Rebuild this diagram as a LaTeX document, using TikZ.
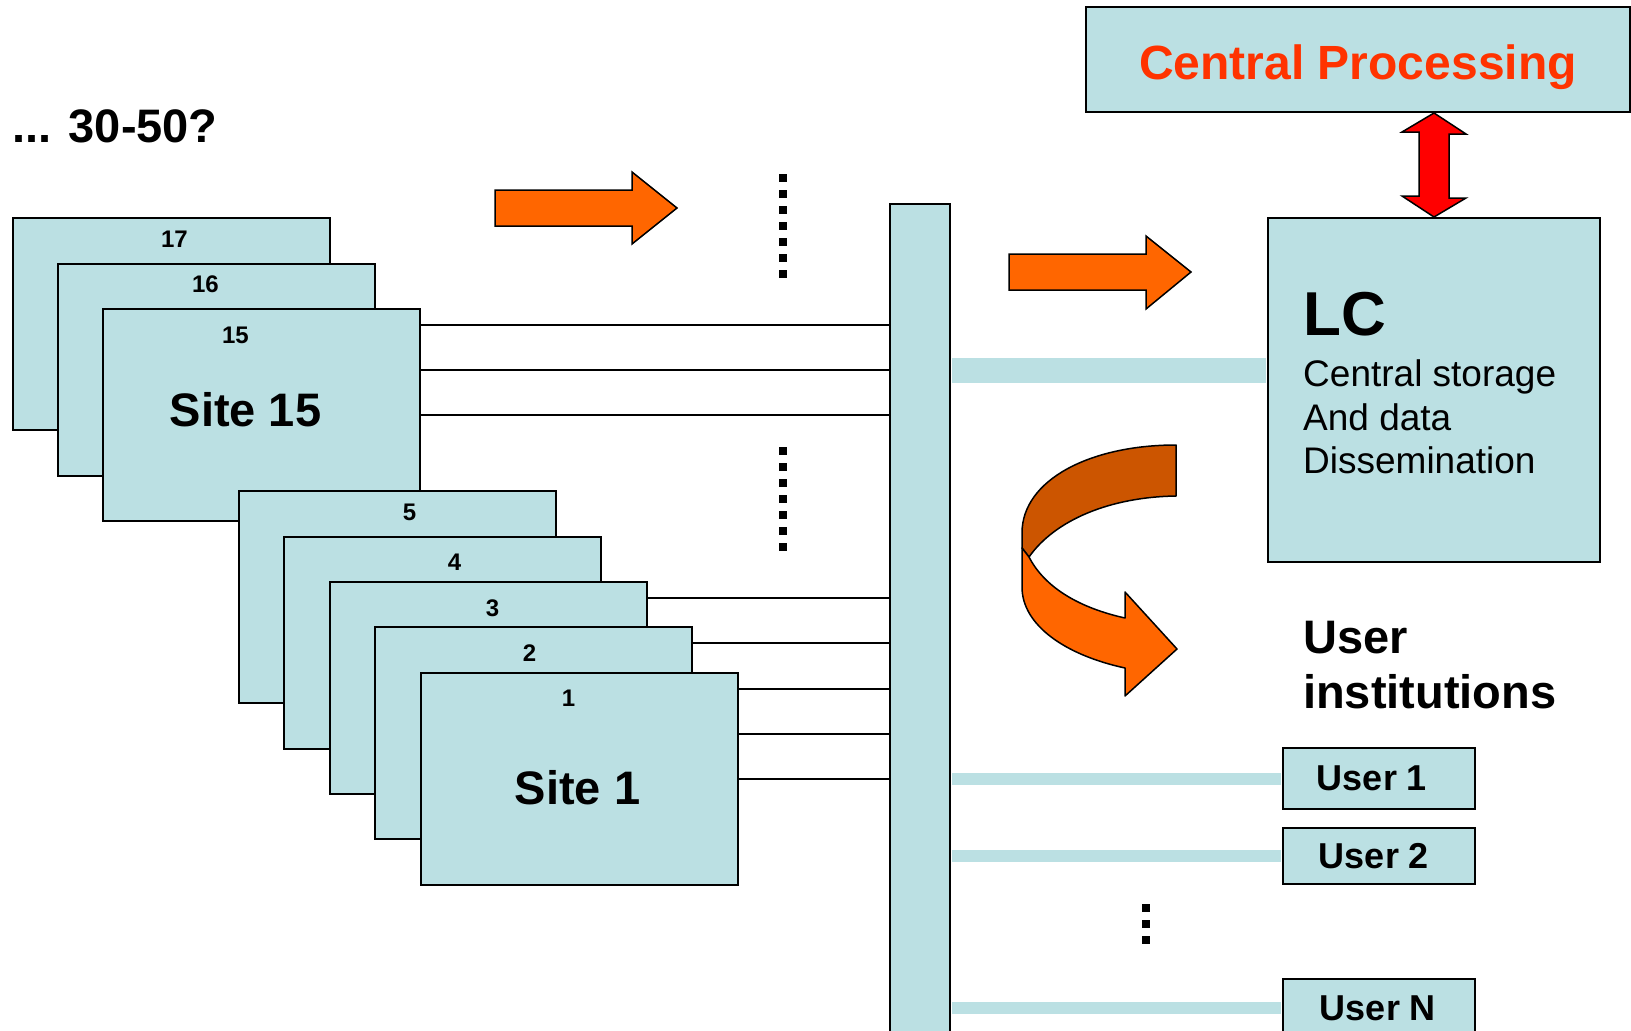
\documentclass[tikz,border=0pt]{standalone}
\usepackage{fontspec}
\setmainfont{Liberation Sans}

\definecolor{boxblue}{RGB}{187,224,227}
\definecolor{fatorange}{RGB}{255,102,0}
\definecolor{backorange}{RGB}{204,85,0}
\definecolor{cpred}{RGB}{255,51,0}

\tikzset{
  site/.style={draw, line width=2pt, fill=boxblue, anchor=north west, inner sep=0pt,
    minimum width=317pt, minimum height=212pt},
  num/.style={font=\fontsize{24}{24}\selectfont\bfseries, inner sep=0pt},
  sitename/.style={font=\fontsize{47}{47}\selectfont\bfseries, inner sep=0pt},
  plainbox/.style={draw, line width=2pt, fill=boxblue, anchor=north west, inner sep=0pt},
  userbox/.style={plainbox, minimum width=192pt},
  username/.style={font=\fontsize{36}{36}\selectfont\bfseries, inner sep=0pt},
  wire/.style={line width=1.6pt},
  link/.style={draw=boxblue, line width=12pt, shorten <=1pt, shorten >=1pt},
  fat/.style={draw, line width=1.5pt, fill=fatorange},
  dots/.style={line width=8pt, dash pattern=on 8pt off 8pt},
}

\begin{document}
\begin{tikzpicture}[x=1pt,y=-1pt]
\useasboundingbox (0,0) rectangle (1631,1031);

\node[anchor=base west, inner sep=0pt, font=\fontsize{47}{47}\selectfont\bfseries] (more) at (12,142) {... 30-50?};

% upper stack
\node[site] (s17) at (12,217) {};
\node[site] (s16) at (57,263) {};
\node[site] (s15) at (102,308) {};
\node[num] (n17) at ([xshift=3pt,yshift=-22pt]s17.north) {17};
\node[num] (n16) at ([xshift=-11pt,yshift=-21pt]s16.north) {16};
\node[num] (n15) at ([xshift=-26pt,yshift=-27pt]s15.north) {15};
\node[sitename] (t15) at ([xshift=-16pt,yshift=5pt]s15.center) {Site 15};

% lower stack
\node[site] (s5) at (238,490) {};
\node[site] (s4) at (283,536) {};
\node[site] (s3) at (329,581) {};
\node[site] (s2) at (374,626) {};
\node[site] (s1) at (420,672) {};
\node[num] (n5) at ([xshift=12pt,yshift=-22pt]s5.north) {5};
\node[num] (n4) at ([xshift=12pt,yshift=-26pt]s4.north) {4};
\node[num] (n3) at ([xshift=4pt,yshift=-27pt]s3.north) {3};
\node[num] (n2) at ([xshift=-4pt,yshift=-27pt]s2.north) {2};
\node[num] (n1) at ([xshift=-11pt,yshift=-26pt]s1.north) {1};
\node[sitename] (t1) at ([xshift=-2pt,yshift=-9pt]s1.center) {Site 1};

\node[plainbox, minimum width=60pt, minimum height=840pt] (bus) at (889,203) {};

\draw[wire] ([yshift=90pt]s15.east) coordinate (w1) -- (w1 -| bus.west);
\draw[wire] ([yshift=45pt]s15.east) coordinate (w2) -- (w2 -| bus.west);
\draw[wire] (s15.east) -- (s15.east -| bus.west);
\draw[wire] ([yshift=90pt]s3.east) coordinate (w3) -- (w3 -| bus.west);
\draw[wire] ([yshift=90pt]s2.east) coordinate (w4) -- (w4 -| bus.west);
\draw[wire] ([yshift=90pt]s1.east) coordinate (w5) -- (w5 -| bus.west);
\draw[wire] ([yshift=45pt]s1.east) coordinate (w6) -- (w6 -| bus.west);
\draw[wire] (s1.east) -- (s1.east -| bus.west);

\draw[dots] (783,174) -- (783,282);
\draw[dots] (783,447) -- (783,555);

% flat arrows
\draw[fat] (495,190) -- (632,190) -- (632,172) -- (677,208) -- (632,244) -- (632,226) -- (495,226) -- cycle;
\draw[fat] (1009,254) -- (1146,254) -- (1146,236) -- (1191,272) -- (1146,309) -- (1146,290) -- (1009,290) -- cycle;

\node[plainbox, minimum width=544pt, minimum height=105pt] (cp) at (1085,6) {};
\node[text=cpred, inner sep=0pt, font=\fontsize{48}{48}\selectfont\bfseries] (cptext) at ([yshift=-8pt]cp.center) {Central Processing};
\node[plainbox, minimum width=332pt, minimum height=344pt] (lc) at (1267,217) {};
\node[anchor=base west, inner sep=0pt, font=\fontsize{62}{62}\selectfont\bfseries] (lcname) at (1303,335) {LC};
\node[anchor=base west, inner sep=0pt, font=\fontsize{37}{37}\selectfont] (lc1) at (1303,386) {Central storage};
\node[anchor=base west, inner sep=0pt, font=\fontsize{37}{37}\selectfont] (lc2) at (1303,430) {And data};
\node[anchor=base west, inner sep=0pt, font=\fontsize{37}{37}\selectfont] (lc3) at (1303,473) {Dissemination};

\draw[line width=1.5pt, fill=red, line join=miter] (cp.south -| lc.north) -- ++(32,21) -- ++(-17,0) -- ++(0,64) -- ++(17,0)
  -- (lc.north) -- ++(-32,-21) -- ++(17,0) -- ++(0,-64) -- ++(-17,0) -- cycle;

\coordinate (lcin) at ([yshift=20pt]lc.west);
\draw[link, line width=25pt] (lcin -| bus.east) -- (lcin);

% turning arrow, back and front of the band
\draw[line width=1.5pt, fill=backorange, line join=round] (1176,445) .. controls (1090,445) and (1022,480) .. (1022,533)
  -- (1022,548) -- (1029,557) .. controls (1055,520) and (1110,497) .. (1176,496) -- cycle;
\draw[line width=1.5pt, fill=fatorange, line join=round] (1022,548) -- (1022,587) .. controls (1022,625) and (1065,655) .. (1125,668)
  -- (1125,696) -- (1177,649) -- (1125,592) -- (1125,618) .. controls (1080,608) and (1045,588) .. (1029,557) -- cycle;

\node[anchor=base west, inner sep=0pt, font=\fontsize{47}{47}\selectfont\bfseries] (ui1) at (1303,653) {User};
\node[anchor=base west, inner sep=0pt, font=\fontsize{47}{47}\selectfont\bfseries] (ui2) at (1303,708) {institutions};

\node[userbox, minimum height=61pt] (u1) at (1282,747) {};
\node[userbox, minimum height=56pt] (u2) at (1282,827) {};
\node[userbox, minimum height=58pt] (un) at (1282,978) {};
\node[username] (u1t) at ([xshift=-7pt]u1.center) {User 1};
\node[username] (u2t) at ([xshift=-5pt]u2.center) {User 2};
\node[username] (unt) at ([xshift=-1pt]un.center) {User N};
\draw[link] (bus.east |- u1.west) -- (u1.west);
\draw[link] (bus.east |- u2.west) -- (u2.west);
\draw[link] (bus.east |- un.west) -- (un.west);

\draw[dots] (1146,904) -- (1146,948);
\end{tikzpicture}
\end{document}
